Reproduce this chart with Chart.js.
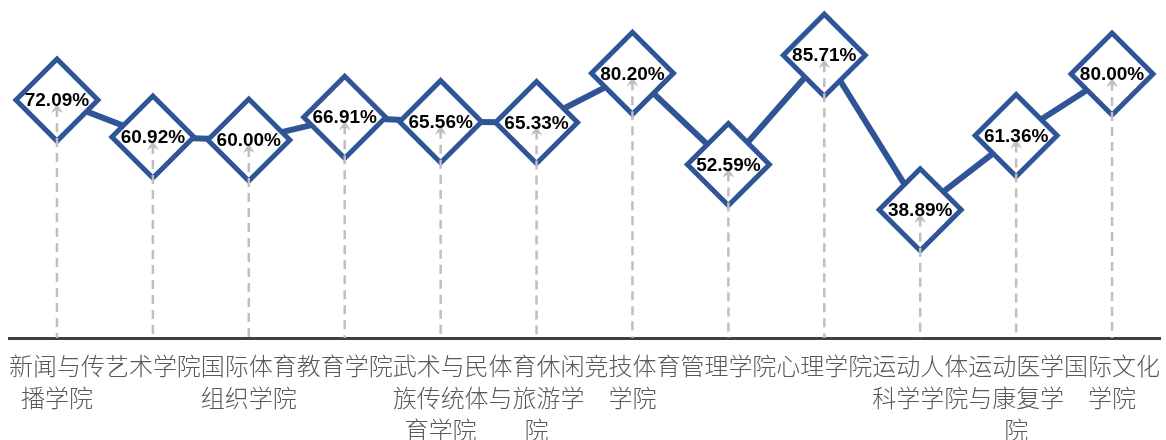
<!DOCTYPE html>
<html>
<head>
<meta charset="utf-8">
<script src="https://cdn.jsdelivr.net/npm/chart.js@4.4.0/dist/chart.umd.min.js"></script>
<style>
  html,body{margin:0;padding:0;background:#fff;}
  #wrap{width:1166px;height:440px;}
</style>
</head>
<body>
<div id="wrap"><canvas id="c" width="1166" height="440"></canvas></div>
<script>
// category labels, already split into lines like the original
const colleges = [
  ['新闻与传', '播学院'],
  ['艺术学院'],
  ['国际体育', '组织学院'],
  ['教育学院'],
  ['武术与民', '族传统体', '育学院'],
  ['体育休闲', '与旅游学', '院'],
  ['竞技体育', '学院'],
  ['管理学院'],
  ['心理学院'],
  ['运动人体', '科学学院'],
  ['运动医学', '与康复学', '院'],
  ['国际文化', '学院']
];
const rates = [72.09, 60.92, 60.00, 66.91, 65.56, 65.33, 80.20, 52.59, 85.71, 38.89, 61.36, 80.00];

const blue = '#2F5597';
const grey = '#BFBFBF';

// dashed drop lines with arrow heads + value labels
const dropLines = {
  id: 'dropLines',
  afterDatasetsDraw(chart) {
    const ctx = chart.ctx;
    const meta = chart.getDatasetMeta(0);
    const bottom = chart.chartArea.bottom;
    ctx.save();
    meta.data.forEach((pt, i) => {
      const x = pt.x, y = pt.y;
      ctx.strokeStyle = grey;
      ctx.lineWidth = 2.5;
      ctx.setLineDash([9, 6]);
      ctx.beginPath();
      ctx.moveTo(x, y + 8);
      ctx.lineTo(x, bottom);
      ctx.stroke();
      ctx.setLineDash([]);
      ctx.fillStyle = grey;
      ctx.beginPath();
      ctx.moveTo(x, y + 4);
      ctx.lineTo(x + 6, y + 13);
      ctx.lineTo(x, y + 10);
      ctx.lineTo(x - 6, y + 13);
      ctx.closePath();
      ctx.fill();
    });
    ctx.fillStyle = '#000';
    ctx.font = 'bold 19px "Liberation Sans", Arial, sans-serif';
    ctx.textAlign = 'center';
    ctx.textBaseline = 'middle';
    meta.data.forEach((pt, i) => {
      ctx.fillText(rates[i].toFixed(2) + '%', pt.x, pt.y + 1);
    });
    ctx.restore();
  }
};

new Chart(document.getElementById('c').getContext('2d'), {
  type: 'line',
  data: {
    labels: colleges,
    datasets: [{
      data: rates,
      borderColor: blue,
      borderWidth: 6,
      pointStyle: 'rectRot',
      pointRadius: 41,
      pointHoverRadius: 41,
      pointBorderWidth: 5,
      pointBorderColor: blue,
      pointBackgroundColor: '#fff',
      tension: 0,
      clip: false
    }]
  },
  options: {
    responsive: false,
    animation: false,
    events: [],
    layout: {autoPadding: false, padding: {left: 9, right: 6, top: 8, bottom: 0}},
    plugins: {legend: {display: false}, tooltip: {enabled: false}},
    scales: {
      x: {
        offset: true,
        grid: {display: false},
        border: {display: true, color: '#404040', width: 3},
        afterFit(scale) { scale.height = 102; },
        ticks: {
          autoSkip: false,
          maxRotation: 0,
          minRotation: 0,
          padding: 4,
          color: '#595959',
          font: {family: '"Noto Sans CJK SC", sans-serif', size: 24, weight: 300, lineHeight: '32px'}
        }
      },
      y: {
        display: false,
        min: 0,
        max: 100
      }
    }
  },
  plugins: [dropLines]
});
</script>
</body>
</html>
